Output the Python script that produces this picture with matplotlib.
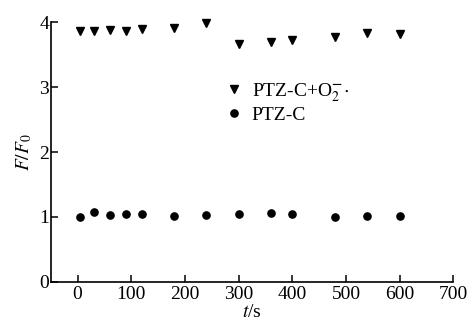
import matplotlib
matplotlib.use("Agg")
import matplotlib.pyplot as plt

# data
t_s = [5, 30, 60, 90, 120, 180, 240, 300, 360, 400, 480, 540, 600]
ratio_o2 = [3.86, 3.86, 3.88, 3.87, 3.89, 3.91, 3.99, 3.67, 3.69, 3.73, 3.78, 3.83, 3.82]
ratio_ptz = [1.00, 1.075, 1.03, 1.05, 1.05, 1.02, 1.03, 1.05, 1.06, 1.05, 1.00, 1.01, 1.01]
xticks = [0, 100, 200, 300, 400, 500, 600, 700]
yticks = [0, 1, 2, 3, 4]

plt.rcParams["font.family"] = ["Liberation Serif", "DejaVu Serif"]
plt.rcParams["mathtext.fontset"] = "stix"
plt.rcParams["font.size"] = 14

fig = plt.figure(figsize=(4.71, 3.24), dpi=100)
ax = fig.add_axes([0.1076, 0.1306, 0.855, 0.8005])

ax.plot(t_s, ratio_o2, linestyle="none", marker="v", color="black", markersize=5.5,
        clip_on=False, label=r"PTZ-C+O$_2^{\mathbf{-}}\!\cdot$")
ax.plot(t_s, ratio_ptz, linestyle="none", marker="o", color="black", markersize=5.2,
        clip_on=False, label="PTZ-C")

ax.set_xlim(-50, 700)
ax.set_ylim(0, 4)
ax.set_xticks(xticks)
ax.set_yticks(yticks)
ax.spines["top"].set_visible(False)
ax.spines["right"].set_visible(False)
for side in ("left", "bottom"):
    ax.spines[side].set_linewidth(1.2)
ax.tick_params(direction="in", length=5, width=1.1, labelsize=14)
ax.tick_params(axis="y", pad=1)
ax.tick_params(axis="x", pad=3)
ax.set_xlabel(r"$t$/s", fontsize=14, labelpad=1)
ax.set_ylabel(r"$F/F_0$", fontsize=14, labelpad=4)

ax.legend(loc="center left", bbox_to_anchor=(0.393, 0.69), frameon=False,
          numpoints=1, handlelength=0.8, handletextpad=0.5, labelspacing=0.15,
          fontsize=14)

fig.savefig("out.png", dpi=100)
